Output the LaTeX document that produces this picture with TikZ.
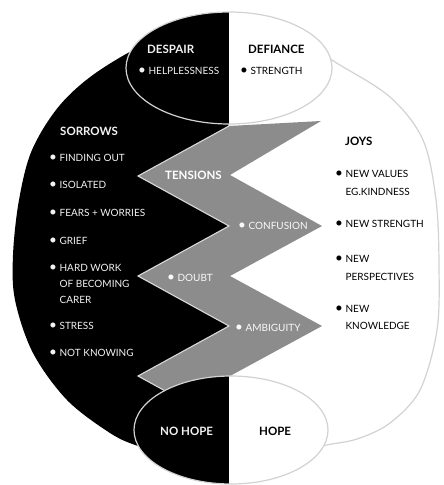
\documentclass[tikz,border=0pt]{standalone}
\usepackage{fontspec}
\setmainfont{Lato}

% bullet, and indent for the lines after a bullet
\newcommand{\bul}{\raisebox{-0.4pt}{\scalebox{1.35}{\textbullet}}\ }
\newcommand{\ind}{\hphantom{\bul}}
% outer rim of the big round shape
\newcommand{\rim}{plot[smooth cycle,tension=0.55] coordinates {(228,26) (290,34) (335,62) (390,97) (423,140) (436,200) (439,265) (437,330) (420,390) (390,423) (357,439) (322,446) (280,458) (228,464) (180,458) (138,446) (110,433) (67,400) (33,353) (15,300) (13,255) (19,200) (32,150) (60,105) (100,70) (160,38)}}

\begin{document}
\begin{tikzpicture}[x=1pt,y=-1pt,
	item/.style={anchor=north west,inner sep=0pt,align=left,font=\fontsize{10}{17}\selectfont},
	head/.style={anchor=north west,inner sep=0pt,font=\bfseries\fontsize{11.5}{12}\selectfont},
	rimline/.style={draw=gray!35,line width=1.2pt}]
	\useasboundingbox (0,0) rectangle (444,485);

	% The big round shape, dark and light half
	\begin{scope}
		\clip (0,0) rectangle (228.5,485);
		\fill[black] \rim;
	\end{scope}
	\begin{scope}
		\clip (228.5,0) rectangle (444,485);
		\path[fill=white,rimline] \rim;
	\end{scope}

	% The zigzag band
	\coordinate (L0) at (229,126);
	\coordinate (L1) at (138,176);
	\coordinate (L2) at (229,226);
	\coordinate (L3) at (138,276);
	\coordinate (L4) at (229,326);
	\coordinate (L5) at (138,376);
	\coordinate (L6) at (229,426);
	\coordinate (R0) at (321,121);
	\coordinate (R1) at (230,175);
	\coordinate (R2) at (322,226);
	\coordinate (R3) at (230,276);
	\coordinate (R4) at (322,326);
	\coordinate (R5) at (230,376);
	\fill[black!45] (L0) -- (L1) -- (L2) -- (L3) -- (L4) -- (L5) -- (L6) -- (R5) -- (R4) -- (R3) -- (R2) -- (R1) -- (R0) -- cycle;
	\draw[white!85!black,line width=1.1pt,line join=miter] (L0) -- (L1) -- (L2) -- (L3) -- (L4) -- (L5) -- (L6);

	% The top and bottom ovals
	\begin{scope}
		\clip (0,0) rectangle (229,485);
		\fill[black] (229,68) ellipse (103 and 56);
		\fill[black] (231,430) ellipse (97 and 54);
	\end{scope}
	\begin{scope}
		\clip (229,0) rectangle (444,485);
		\fill[white] (229,68) ellipse (103 and 56);
		\fill[white] (231,430) ellipse (97 and 54);
	\end{scope}
	\draw[rimline] (229,68) ellipse (103 and 56);
	\draw[rimline] (231,430) ellipse (97 and 54);

	% Top oval
	\node[head,text=gray!10] (despair) at (147,44.5) {DESPAIR};
	\node[item,text=gray!10] (helpless) at (138,67) {\bul HELPLESSNESS};
	\node[head] (defiance) at (248,44.5) {DEFIANCE};
	\node[item] (strength) at (240,67) {\bul STRENGTH};

	% Sorrows
	\node[head,text=gray!10] (sorrows) at (60,126.5) {SORROWS};
	\node[item,text=gray!10] (findout) at (49,154) {\bul FINDING OUT};
	\node[item,text=gray!10] (isolated) at (49,181) {\bul ISOLATED};
	\node[item,text=gray!10] (fears) at (49,209) {\bul FEARS + WORRIES};
	\node[item,text=gray!10] (grief) at (49,237) {\bul GRIEF};
	\node[item,text=gray!10,font=\fontsize{10}{16}\selectfont] (hardwork) at (49,264) {\bul HARD WORK\\\ind OF BECOMING\\\ind CARER};
	\node[item,text=gray!10] (stress) at (49,322) {\bul STRESS};
	\node[item,text=gray!10] (notknow) at (49,349) {\bul NOT KNOWING};

	% Tensions
	\node[head,text=white] (tensions) at (165,170.5) {TENSIONS};
	\node[item,text=gray!5] (confusion) at (238,222) {\bul CONFUSION};
	\node[item,text=gray!5] (doubt) at (167,274) {\bul DOUBT};
	\node[item,text=gray!5] (ambiguity) at (235,324) {\bul AMBIGUITY};

	% Joys
	\node[head] (joys) at (345,136.5) {JOYS};
	\node[item,font=\fontsize{10}{18}\selectfont] (values) at (335,170) {\bul NEW VALUES\\\ind EG.KINDNESS};
	\node[item] (newstrength) at (335,220) {\bul NEW STRENGTH};
	\node[item,font=\fontsize{10}{18}\selectfont] (perspectives) at (335,255) {\bul NEW\\\ind PERSPECTIVES};
	\node[item] (knowledge) at (335,305) {\bul NEW\\\ind KNOWLEDGE};

	% Bottom oval
	\node[head,text=gray!10] (nohope) at (160,426.5) {NO HOPE};
	\node[head] (hope) at (259,426.5) {HOPE};
\end{tikzpicture}
\end{document}
